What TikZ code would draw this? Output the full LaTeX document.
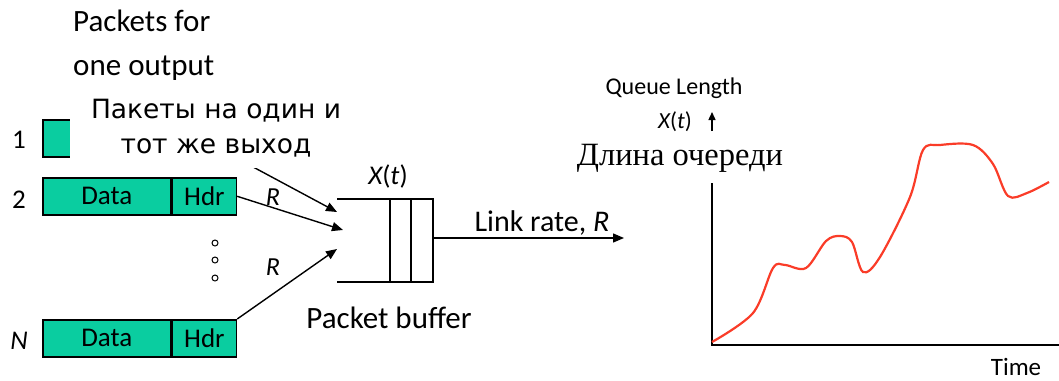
\documentclass[tikz,border=0pt]{standalone}
\usepackage{fontspec}
\setmainfont{Carlito}
\newfontfamily\comicru{DejaVu Sans}
\newfontfamily\serifru{Liberation Serif}
\usetikzlibrary{arrows.meta}
\definecolor{pktgreen}{RGB}{10,205,160}
\definecolor{curvered}{RGB}{250,60,40}
\tikzset{
  pkt/.style={draw=black, line width=1.6pt, fill=pktgreen, inner sep=0pt, minimum height=37pt, font=\fontsize{27}{30}\selectfont},
  dpart/.style={pkt, minimum width=128pt},
  hpart/.style={pkt, minimum width=64pt},
  lbl/.style={inner sep=0pt, font=\fontsize{27}{30}\selectfont},
  inarrow/.style={line width=1.4pt, -{Triangle[length=11pt,width=9pt]}},
  bufline/.style={line width=1.6pt},
  axis/.style={line width=1.8pt},
  dotc/.style={circle, draw=black, line width=1pt, inner sep=0pt, minimum size=6pt},
}
\begin{document}
\begin{tikzpicture}[x=1pt,y=-1pt]
\useasboundingbox (0,0) rectangle (1059,380);
% title
\node[inner sep=0pt, align=left, anchor=north west, font=\fontsize{31}{44}\selectfont] (title) at (73,10) {Packets for\\one output};
% packet 1 (mostly hidden)
\node[pkt, minimum width=192pt, anchor=north west] (box1) at (42,119) {};
\node[lbl] (n1) at (19,140) {1};
% packet 2
\node[dpart, anchor=north west] (d2) at (42,177) {Data};
\node[hpart, anchor=west] (h2) at (d2.east) {Hdr};
\node[lbl] (n2) at (19,200) {2};
% packet N
\node[dpart, anchor=north west] (dN) at (42,319) {Data};
\node[hpart, anchor=west] (hN) at (dN.east) {Hdr};
\node[lbl] (nN) at (19,341) {\itshape N};
% dots
\node[dotc] (dot1) at (215,243) {};
\node[dotc] (dot2) at (215,260) {};
\node[dotc] (dot3) at (215,278) {};
% buffer
\coordinate (bTL) at (337,199);
\coordinate (bTR) at (433,199);
\coordinate (bBR) at (433,282);
\coordinate (bBL) at (337,282);
\draw[bufline] (bTL) -- (bTR) -- (bBR) -- (bBL);
\draw[bufline] (390,199) -- (390,282);
\draw[bufline] (411,199) -- (411,282);
\coordinate (in1) at (337,212);
\coordinate (in2) at (343,230);
\coordinate (in3) at (337,249);
\coordinate (bufout) at (433,238);
\coordinate (linkend) at (624,238);
% arrows
\draw[inarrow] (box1.south east) -- (in1);
\draw[inarrow] (h2.east) -- (in2);
\draw[inarrow] (hN.north east) -- (in3);
\draw[inarrow] (bufout) -- (linkend);
\node[lbl, font=\fontsize{26}{30}\selectfont\itshape] (r1) at (273,197) {R};
\node[lbl, font=\fontsize{26}{30}\selectfont\itshape] (r2) at (273,267) {R};
\node[lbl] (xt) at (388,176) {\itshape X\upshape(\itshape t\upshape)};
\node[lbl, font=\fontsize{30}{32}\selectfont] (link) at (542,223) {Link rate, \itshape R};
\node[lbl, font=\fontsize{31}{32}\selectfont] (pbuf) at (389,318) {Packet buffer};
% russian overlay
\node[fill=white, inner sep=0pt, minimum width=293pt, minimum height=80pt, align=center, font=\comicru\fontsize{26.5}{35}\selectfont] (ru) at (216,128) {Пакеты на один и\\тот же выход};
% graph
\coordinate (orig) at (712,345);
\coordinate (ytop) at (712,183);
\coordinate (xend) at (1059,345);
\draw[axis] (ytop) -- (orig) -- (xend);
\coordinate (qa1) at (712,131);
\coordinate (qa2) at (712,112);
\draw[line width=1.4pt, -{Triangle[length=8pt,width=7pt]}] (qa1) -- (qa2);
\node[lbl, font=\fontsize{24}{26}\selectfont] (ql) at (674,88) {Queue Length};
\node[lbl, font=\fontsize{23}{26}\selectfont] (qx) at (675,122) {\itshape X\upshape(\itshape t\upshape)};
\node[lbl, font=\serifru\fontsize{32.5}{34}\selectfont] (dl) at (680,158) {Длина очереди};
\node[lbl, font=\fontsize{25}{28}\selectfont] (time) at (1016,367) {Time};
\draw[curvered, line width=2.2pt] plot[smooth, tension=0.55] coordinates {
(712,342) (753,313) (773,268) (785,265) (806,268) (826,241) (840,236) (852,242) (863,272) (880,257) (910,197) (923,150) (940,145) (973,145) (993,164) (1008,196) (1027,193) (1049,182)};
\end{tikzpicture}
\end{document}
